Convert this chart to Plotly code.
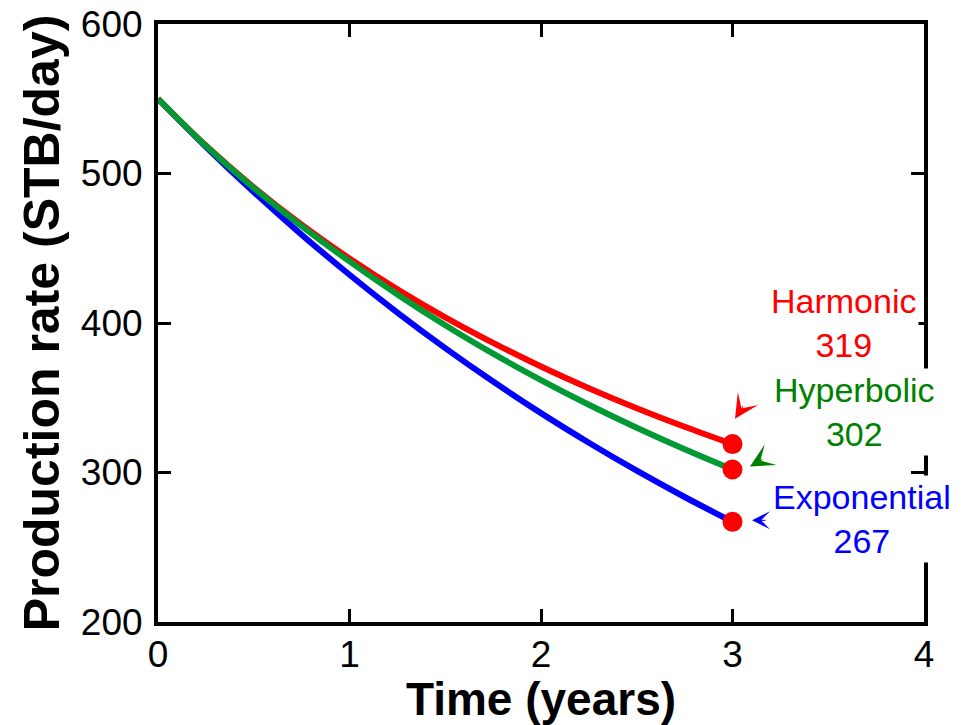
import plotly.graph_objects as go

# ---- data ----
time_years = [0, 0.25, 0.5, 0.75, 1, 1.25, 1.5, 1.75, 2, 2.25, 2.5, 2.75, 3]
exponential = [550, 517.9, 487.6, 459.1, 432.3, 407.0, 383.2, 360.8, 339.7, 319.9, 301.2, 283.6, 267]
hyperbolic = [550, 518.5, 490.3, 464.8, 441.2, 419.1, 398.5, 379.5, 361.8, 345.3, 329.9, 315.5, 302]
harmonic = [550, 518.7, 490.8, 465.7, 443.1, 422.5, 403.8, 386.7, 370.9, 356.4, 343.0, 330.6, 319]
end_time = [3, 3, 3]
end_rates = [319, 302, 267]
labels = ["Harmonic", "Hyperbolic", "Exponential"]

FONT = "Liberation Sans, Arial, sans-serif"
RED = "#FF0000"
GREEN_LINE = "#009933"
GREEN_TEXT = "#008000"
BLUE = "#0000FF"

fig = go.Figure()
fig.add_trace(go.Scatter(x=time_years, y=exponential, mode="lines",
                         line=dict(color=BLUE, width=6, shape="spline"), name="Exponential"))
fig.add_trace(go.Scatter(x=time_years, y=harmonic, mode="lines",
                         line=dict(color=RED, width=6, shape="spline"), name="Harmonic"))
fig.add_trace(go.Scatter(x=time_years, y=hyperbolic, mode="lines",
                         line=dict(color=GREEN_LINE, width=6, shape="spline"), name="Hyperbolic"))
fig.add_trace(go.Scatter(x=end_time, y=end_rates, mode="markers",
                         marker=dict(color=RED, size=20), name="End rates"))

axis_common = dict(
    showgrid=False, zeroline=False, showline=True, linecolor="black", linewidth=4,
    mirror="ticks", ticks="inside", ticklen=13, tickwidth=3, tickcolor="black",
    tickfont=dict(family=FONT, size=37, color="black"),
    ticklabeloverflow="allow",
)

fig.update_xaxes(range=[0, 4], tickvals=[0, 1, 2, 3, 4], ticklabelstandoff=-3,
                 title=dict(text="<b>Time (years)</b>", font=dict(family=FONT, size=46, color="black"),
                            standoff=8),
                 **axis_common)
fig.update_yaxes(range=[200, 600], tickvals=[200, 300, 400, 500, 600], ticklabelstandoff=4,
                 title=dict(text="<b>Production rate (STB/day)</b>",
                            font=dict(family=FONT, size=50, color="black"), standoff=6),
                 **axis_common)

# text labels
label_pos = [(3.577, 400), (3.637, 340.7), (3.674, 268.7)]
label_cols = [RED, GREEN_TEXT, BLUE]
for (lx, ly), lab, val, col in zip(label_pos, labels, end_rates, label_cols):
    fig.add_annotation(x=lx, y=ly, xref="x", yref="y", text=f"{lab}<br>{val}", showarrow=False,
                       font=dict(family=FONT, size=34, color=col), bgcolor="white",
                       align="center", borderpad=2)

# arrowheads
arrow_tips = [(3.013, 336, 9, -14, RED, 4.0), (3.091, 304, 14, -8, GREEN_TEXT, 4.0),
              (3.102, 268, 15, 0, BLUE, 3.0)]
for tx, ty, axo, ayo, col, sz in arrow_tips:
    fig.add_annotation(x=tx, y=ty, xref="x", yref="y", ax=axo, ay=ayo, text="",
                       showarrow=True, arrowhead=3, arrowsize=sz, arrowwidth=1,
                       arrowcolor=col, standoff=0)

# page has an 8px body margin, so the figure is sized/offset to compensate
fig.update_layout(
    width=953, height=717,
    margin=dict(l=150, r=37, t=16, b=103, autoexpand=False),
    plot_bgcolor="white", paper_bgcolor="white",
    showlegend=False,
    font=dict(family=FONT, color="black"),
)

fig.write_html("out.html")
